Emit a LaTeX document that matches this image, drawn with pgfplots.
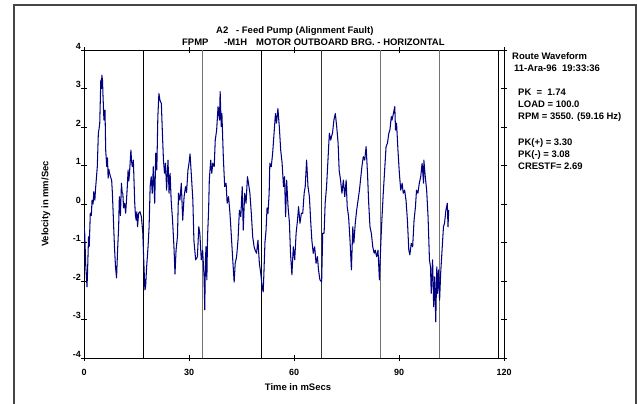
\documentclass[border=0pt]{standalone}
\usepackage{pgfplots}
\pgfplotsset{compat=1.18}
\usepackage{fontspec}
\setmainfont{Liberation Sans}
\definecolor{wave}{RGB}{0,0,128}
\definecolor{framegray}{RGB}{70,70,70}
\begin{document}
\begin{tikzpicture}
\begin{axis}[
  at={(0,0)}, anchor=south west,
  scale only axis, width=420bp, height=308bp,
  xmin=0, xmax=120, ymin=-4, ymax=4,
  xtick={0,30,60,90,120}, ytick={-4,-3,...,4},
  tick align=center, major tick length=6bp,
  tick style={black, line width=0.7pt},
  axis line style={black, line width=0.8pt},
  /pgf/number format/assume math mode=true,
  ticklabel style={font=\fontsize{9}{10}\selectfont\bfseries},
  yticklabel style={inner sep=1bp, xshift=1bp, yshift=4bp},
  xticklabel style={yshift=-5bp},
  clip=true,
]
\addplot[black, line width=0.7pt] coordinates {(16.93,-4) (16.93,4)};
\addplot[black!55, line width=0.8pt] coordinates {(33.86,-4) (33.86,4)};
\addplot[black, line width=0.7pt] coordinates {(50.79,-4) (50.79,4)};
\addplot[black!80, line width=0.7pt] coordinates {(67.72,-4) (67.72,4)};
\addplot[black!55, line width=0.8pt] coordinates {(84.65,-4) (84.65,4)};
\addplot[black!55, line width=0.8pt] coordinates {(101.58,-4) (101.58,4)};
\addplot[black, line width=0.7pt] coordinates {(118.51,-4) (118.51,4)};
\addplot[wave, line width=1.05bp, line join=round] coordinates {
(0.0,-0.6) (0.2,-0.75) (0.5,-1.6) (0.86,-2.15) (1.0,-1.8) (1.3,-0.85) (1.5,-1.1) (1.8,-0.24) (2.1,-0.3) (2.3,0.1) (2.6,0.0) (2.8,0.32) (3.1,0.1) (3.3,0.4) (3.5,0.62) (3.8,0.97) (4.1,1.84) (4.3,1.95) (4.5,2.1) (4.8,3.22) (5.0,3.0) (5.1,3.35) (5.3,3.2) (5.4,2.88) (5.6,2.4) (5.7,2.18) (6.0,2.44) (6.2,1.4) (6.5,0.97) (6.7,1.2) (6.9,0.67) (7.1,0.9) (7.3,0.8) (7.6,0.7) (7.9,0.62) (8.1,0.3) (8.3,-0.16) (8.7,-1.1) (9.0,-1.63) (9.3,-1.92) (9.6,-1.19) (9.9,-0.59) (10.1,0.19) (10.4,-0.3) (10.7,0.54) (10.9,0.3) (11.1,0.27) (11.3,-0.1) (11.6,0.02) (11.9,-0.24) (12.2,0.19) (12.4,0.5) (12.6,0.88) (12.8,0.6) (13.0,0.8) (13.4,1.4) (13.6,1.1) (13.8,0.97) (14.1,1.14) (14.5,0.02) (14.7,-0.3) (14.9,-0.42) (15.1,-0.2) (15.3,-0.59) (15.6,-0.24) (16.0,-0.2) (16.4,-0.33) (16.8,-0.75) (17.1,-1.54) (17.4,-2.23) (17.6,-2.15) (17.9,-1.63) (18.3,-1.11) (18.6,-0.59) (18.9,0.45) (19.2,0.71) (19.5,0.28) (19.8,0.97) (20.2,0.02) (20.5,1.32) (20.8,0.88) (21.1,2.27) (21.4,2.87) (21.7,2.7) (22.1,2.61) (22.4,1.84) (22.7,1.14) (23.0,0.8) (23.3,1.06) (23.6,0.36) (24.0,1.14) (24.3,0.28) (24.6,0.8) (24.9,0.1) (25.3,-0.42) (25.7,-1.11) (26.0,-1.82) (26.3,-1.2) (26.7,-0.85) (27.0,0.28) (27.4,0.1) (27.8,0.54) (28.2,-0.42) (28.6,0.19) (29.0,0.45) (29.3,0.3) (29.7,0.88) (30.0,1.06) (30.3,1.3) (30.7,0.71) (31.1,0.1) (31.4,-0.94) (31.9,-1.45) (32.4,-1.37) (32.8,-0.59) (33.1,-0.76) (33.5,-1.45) (33.9,-1.2) (34.3,-1.89) (34.5,-2.75) (34.7,-1.45) (34.86,-1.11) (35.1,-1.97) (35.3,-0.85) (35.6,-0.16) (35.8,0.62) (36.2,1.14) (36.5,0.8) (36.8,1.06) (37.2,0.97) (37.5,1.66) (37.9,1.92) (38.3,2.53) (38.7,2.18) (38.9,2.92) (39.2,2.01) (39.4,2.35) (39.8,1.23) (40.2,0.45) (40.6,0.54) (40.9,0.02) (41.3,0.19) (41.7,-0.24) (42.0,-0.68) (42.5,-1.45) (42.9,-2.03) (43.2,-1.54) (43.6,-1.37) (44.0,-0.94) (44.4,-0.16) (44.8,-0.33) (45.2,0.45) (45.5,-0.68) (45.9,0.28) (46.3,0.02) (46.7,0.71) (47.0,0.54) (47.4,0.28) (47.8,-0.24) (48.2,-0.85) (48.6,-1.11) (48.9,-1.2) (49.3,-1.28) (49.7,-0.94) (50.1,-1.54) (50.5,-1.8) (50.9,-2.15) (51.2,-2.28) (51.4,-1.8) (51.7,-1.0) (52.0,-0.7) (52.3,-0.1) (52.57,-0.24) (52.9,0.28) (53.1,1.06) (53.5,0.97) (53.9,1.32) (54.3,1.84) (54.7,2.35) (55.0,2.1) (55.4,2.48) (55.8,2.01) (56.2,1.4) (56.6,1.06) (57.0,0.45) (57.3,0.71) (57.6,-0.33) (57.9,0.62) (58.3,-0.07) (58.7,-0.5) (59.0,-1.28) (59.4,-1.84) (59.8,-1.11) (60.2,-1.45) (60.6,-0.76) (61.0,-0.42) (61.3,-0.07) (61.7,-0.5) (62.1,-0.24) (62.5,-0.24) (62.9,0.28) (63.2,0.45) (63.6,1.14) (64.0,0.45) (64.4,0.19) (64.8,-0.5) (65.1,-0.94) (65.5,-1.28) (65.9,-1.11) (66.3,-1.54) (66.7,-1.37) (67.0,-1.71) (67.4,-1.97) (67.9,-2.02) (68.2,-0.76) (68.6,-0.76) (68.9,0.02) (69.3,0.45) (69.7,1.14) (70.1,1.84) (70.5,1.66) (70.7,1.75) (71.0,1.84) (71.4,2.18) (71.8,2.35) (72.2,2.01) (72.6,1.58) (72.9,0.88) (73.3,0.62) (73.7,0.28) (74.1,0.62) (74.5,0.19) (74.9,0.62) (75.2,-0.07) (75.6,-0.33) (76.0,-0.94) (76.4,-1.71) (76.8,-0.59) (77.1,-1.02) (77.5,-0.5) (77.9,-0.16) (78.3,0.1) (78.7,0.36) (79.1,0.71) (79.4,0.97) (79.8,1.23) (80.2,1.14) (80.6,1.49) (81.0,0.8) (81.3,0.1) (81.7,-0.59) (82.1,-0.76) (82.5,-1.11) (82.9,-1.28) (83.2,-1.2) (83.6,-1.37) (84.0,-1.2) (84.4,-1.97) (84.8,-1.02) (85.1,-0.42) (85.5,0.28) (85.9,0.88) (86.3,1.49) (86.7,1.58) (87.1,1.84) (87.4,1.92) (87.8,2.27) (88.0,2.18) (88.4,2.35) (88.8,2.53) (89.0,1.92) (89.3,2.1) (89.7,1.4) (90.1,0.8) (90.5,0.36) (90.9,0.54) (91.2,0.28) (91.6,0.36) (92.0,0.1) (92.4,-0.42) (92.8,-1.2) (93.1,-1.32) (93.5,-1.02) (93.9,-1.11) (94.3,-0.42) (94.7,-0.07) (95.0,0.36) (95.4,0.28) (95.8,0.54) (96.2,0.71) (96.6,1.06) (97.0,0.54) (97.1,1.14) (97.5,0.71) (97.9,0.36) (98.3,-0.33) (98.7,-1.45) (99.0,-1.63) (99.2,-2.32) (99.6,-1.45) (99.9,-2.67) (100.2,-1.89) (100.5,-3.06) (100.8,-1.63) (101.0,-2.32) (101.3,-1.71) (101.6,-2.5) (101.9,-1.8) (102.3,-1.2) (102.7,-0.59) (103.0,-0.5) (103.4,-0.16) (103.8,0.02) (104.0,-0.59) (104.2,-0.16)
};
\end{axis}
\pgfresetboundingbox
\begin{scope}[shift={(-84bp,358bp)}, x=1bp, y=-1bp]
\path[use as bounding box] (0,0) rectangle (637,403);
\draw[framegray, line width=1.4bp] (14,420) -- (14,5) -- (636,5) -- (636,420);
\begin{scope}[every node/.style={inner sep=0pt, anchor=base west, font=\fontsize{9.5}{10}\selectfont\bfseries}]
\node at (216,33) {A2\ \ \ - Feed Pump (Alignment Fault)};
\node at (182,45) {FPMP};
\node at (224,45) {-M1H};
\node at (256,45) {MOTOR OUTBOARD BRG. - HORIZONTAL};
\node at (512,59) {Route Waveform};
\node at (514,71) {11-Ara-96\ \ 19:33:36};
\node at (518,95) {PK\ \ =\ \ 1.74};
\node at (518,107) {LOAD = 100.0};
\node at (518,119) {RPM = 3550. (59.16 Hz)};
\node at (518,145) {PK(+) = 3.30};
\node at (518,157) {PK(-) = 3.08};
\node at (518,169) {CRESTF= 2.69};
\node[anchor=center] at (298,387) {Time in mSecs};
\node[anchor=center, rotate=90] at (46,204) {Velocity in mm/Sec};
\end{scope}
\end{scope}
\end{tikzpicture}
\end{document}
